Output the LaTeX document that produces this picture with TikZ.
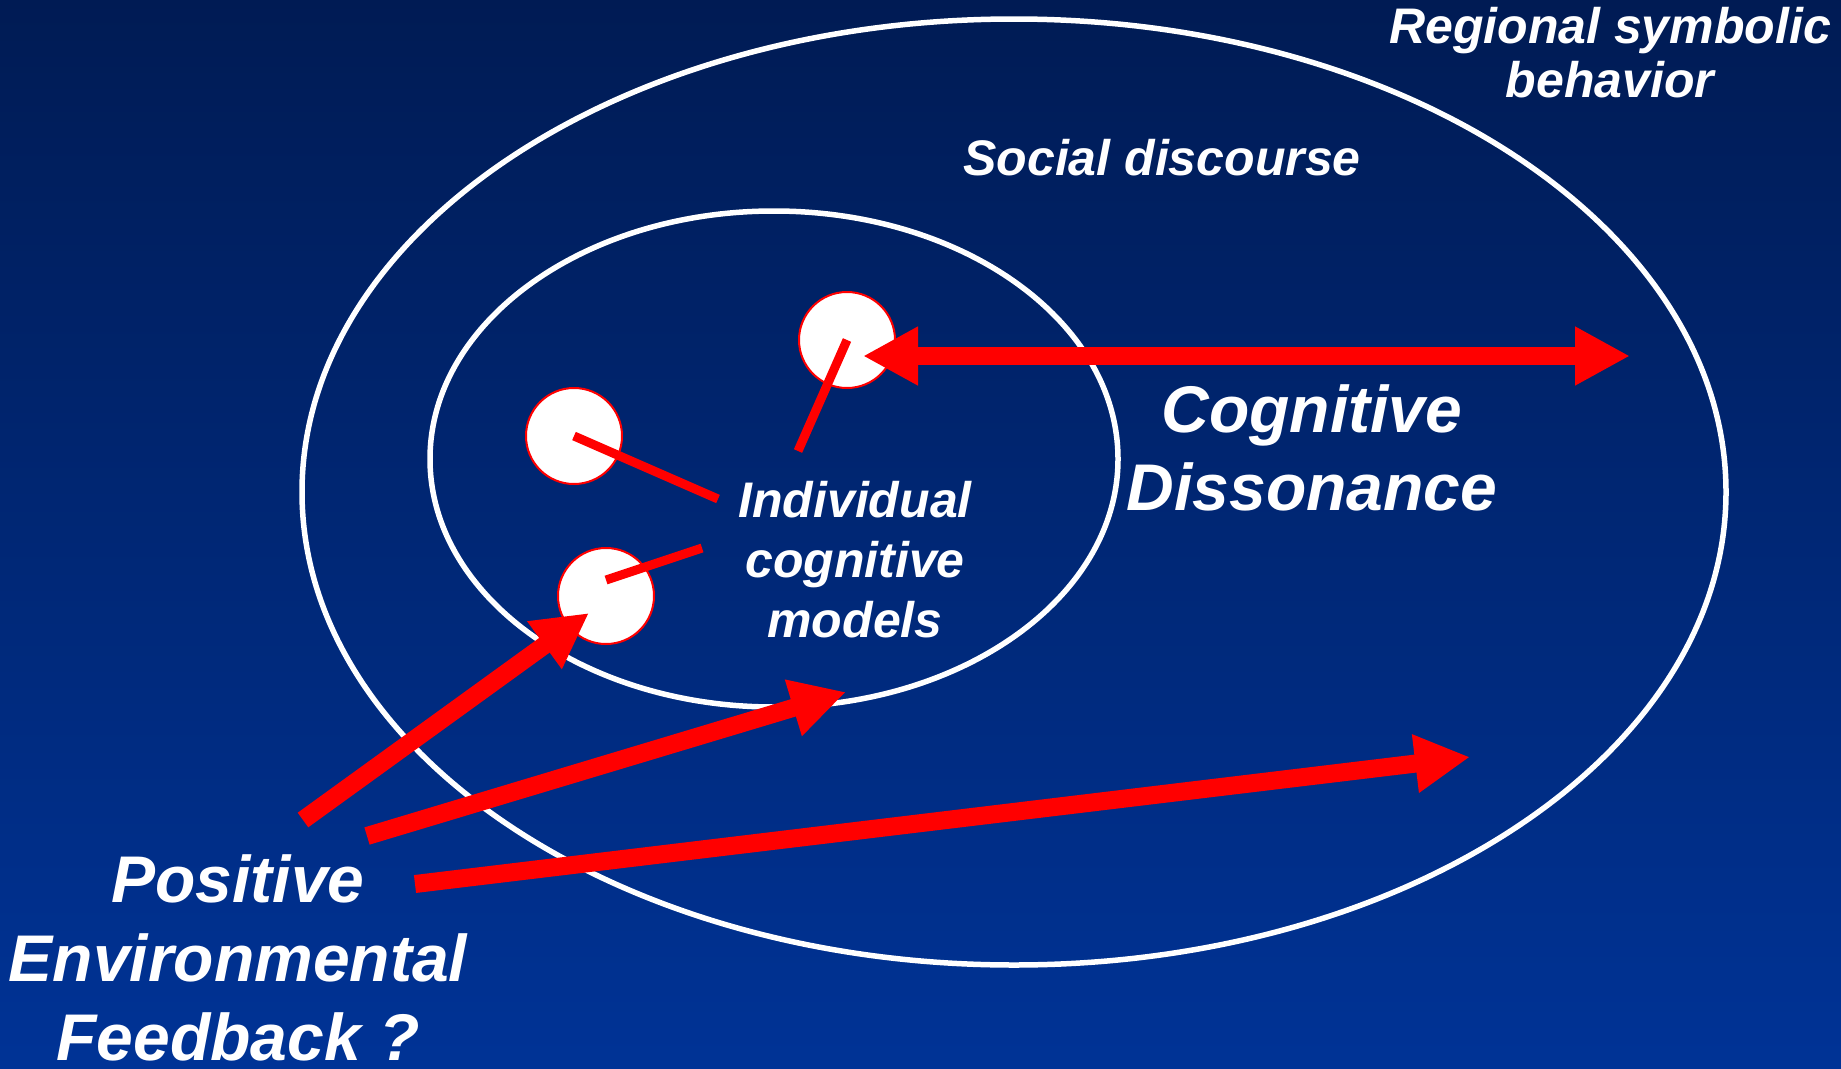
\documentclass[tikz,border=0pt]{standalone}
\usepackage{fontspec}
\setmainfont{Liberation Sans}
\usetikzlibrary{arrows.meta}

\definecolor{bgtop}{RGB}{0,27,84}
\definecolor{bgbottom}{RGB}{0,51,150}

\tikzset{
  zonetext/.style={text=white, align=center, inner sep=0pt, anchor=base},
  model/.style={circle, draw=red, line width=2pt, fill=white, minimum size=96pt, inner sep=0pt},
  spoke/.style={red, line width=9pt},
  bigarrow/.style={red, line width=18pt, -{Triangle[length=55pt, width=55pt]}},
}

\begin{document}
\begin{tikzpicture}[x=1pt, y=-1pt]
    \shade [top color=bgtop, bottom color=bgbottom] (0,0) rectangle (1841,1068);
    \useasboundingbox (0,0) rectangle (1841,1068);
    % nested zones
    \draw [white, line width=5.5pt] (1014,492) ellipse (712 and 473);
    \draw [white, line width=5.5pt] (774,459) ellipse (344 and 248);
    % individual models
    \node[model] (m1) at (847,340){};
    \node[model] (m2) at (574,436){};
    \node[model] (m3) at (606,596){};
    \coordinate (s1) at (798,451);
    \coordinate (s2) at (718,499);
    \coordinate (s3) at (702,548);
    \draw [spoke] (m1.center) -- (s1);
    \draw [spoke] (m2.center) -- (s2);
    \draw [spoke] ([yshift=16pt]m3.center) -- (s3);
    % labels (base = last line)
    \node[zonetext, font=\fontsize{50}{54}\selectfont\bfseries\itshape] (regional) at (1610,97){Regional symbolic\\behavior};
    \node[zonetext, font=\fontsize{50}{60}\selectfont\bfseries\itshape] (social) at (1162,175){Social discourse};
    \node[zonetext, font=\fontsize{66}{78}\selectfont\bfseries\itshape] (dissonance) at (1312,510){Cognitive\\Dissonance};
    \node[zonetext, font=\fontsize{50}{60}\selectfont\bfseries\itshape] (individual) at (855,637){Individual\\cognitive\\models};
    \node[zonetext, font=\fontsize{66}{79}\selectfont\bfseries\itshape] (feedback) at (238,1060){Positive\\Environmental\\Feedback ?};
    % dissonance arrow
    \coordinate (d1) at (863,356);
    \coordinate (d2) at (1630,356);
    \draw [bigarrow, {Triangle[length=55pt, width=55pt]}-{Triangle[length=55pt, width=55pt]}] (d1) -- (d2);
    % feedback arrows
    \coordinate (fb1) at (303,820);
    \coordinate (fb2) at (367,836);
    \coordinate (fb3) at (415,884);
    \coordinate (t1) at (589,613);
    \coordinate (t2) at (846,692);
    \coordinate (t3) at (1470,757);
    \draw [bigarrow] (fb1) -- (t1);
    \draw [bigarrow] (fb2) -- (t2);
    \draw [bigarrow] (fb3) -- (t3);
\end{tikzpicture}
\end{document}
